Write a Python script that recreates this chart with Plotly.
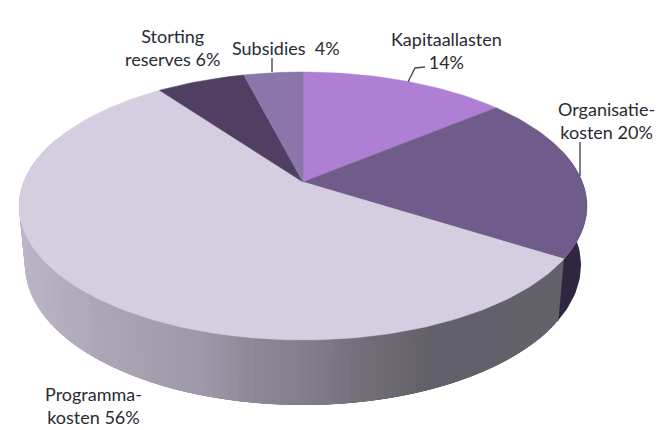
import math
import plotly.graph_objects as go

categories = ["Kapitaallasten", "Organisatiekosten", "Programmakosten", "Storting reserves", "Subsidies"]
values = [14, 20, 56, 6, 4]
top_colors = ["#ae7fd2", "#705c8a", "#d4cee0", "#503f63", "#8b76aa"]
label_texts = ["Kapitaallasten<br>14%", "Organisatie-<br>kosten 20%", "Programma-<br>kosten 56%",
               "Storting<br>reserves 6%", "Subsidies  4%"]
label_xy = [(446, 50), (606, 120), (93, 405), (172, 47), (286, 48)]

# wall shading along the screen x position
wall_stops = [(20, "#bcb5c8"), (100, "#aca5b6"), (200, "#9e98a8"), (260, "#8c8793"), (320, "#7e7a87"),
              (380, "#6e6b74"), (430, "#62606a"), (570, "#63616a")]
dark_wall = "#30263f"

K = 0.179
TOP = dict(cx=303, cy=182, a=279.4, b=129.7)
BOT = dict(cx=303, cy=240, a=273.5, b=135.5)


def project(theta, g):
    w = 1 + K * math.cos(theta)
    return g["cx"] + g["a"] * math.sin(theta) / w, g["cy"] - g["b"] * math.cos(theta) / w


def hex_rgb(h):
    return [int(h[i:i + 2], 16) for i in (1, 3, 5)]


def shade(x):
    if x <= wall_stops[0][0]:
        return wall_stops[0][1]
    for (x0, c0), (x1, c1) in zip(wall_stops, wall_stops[1:]):
        if x <= x1:
            t = (x - x0) / (x1 - x0)
            r = [round(p + (q - p) * t) for p, q in zip(hex_rgb(c0), hex_rgb(c1))]
            return "rgb(%d,%d,%d)" % tuple(r)
    return wall_stops[-1][1]


total = sum(values)
edges = [0.0]
for v in values:
    edges.append(edges[-1] + v / total * 2 * math.pi)


def poly(xs, ys, color):
    return go.Scatter(x=xs, y=ys, mode="lines", fill="toself", fillcolor=color,
                      line=dict(color=color, width=0), hoverinfo="skip", showlegend=False)


fig = go.Figure()

# side wall of the Organisatie slice
t0, t1 = math.pi / 2 - 0.25, edges[2] + 0.01
ts = [t0 + (t1 - t0) * i / 40 for i in range(41)]
up = [project(t, TOP) for t in ts]
lo = [project(t, BOT) for t in ts]
pts = up + lo[::-1]
fig.add_trace(poly([p[0] for p in pts] + [pts[0][0]], [p[1] for p in pts] + [pts[0][1]], dark_wall))

# side wall of the Programma slice, drawn from the right so every strip overlaps the previous one
N = 110
t0, t1 = edges[2], 3 * math.pi / 2 + 0.3
step = (t1 - t0) / N
for i in range(N):
    a = t0 + step * i
    b = a + step * 4
    p = [project(a, TOP), project(b, TOP), project(b, BOT), project(a, BOT), project(a, TOP)]
    mid = project(a + step / 2, TOP)[0]
    fig.add_trace(poly([q[0] for q in p], [q[1] for q in p], shade(mid)))

# top face slices
for i, c in enumerate(top_colors):
    n = max(8, int(values[i] * 3))
    ts = [edges[i] + (edges[i + 1] - edges[i]) * j / n for j in range(n + 1)]
    p = [project(t, TOP) for t in ts]
    xs = [TOP["cx"]] + [q[0] for q in p] + [TOP["cx"]]
    ys = [TOP["cy"]] + [q[1] for q in p] + [TOP["cy"]]
    fig.add_trace(go.Scatter(x=xs, y=ys, mode="lines", fill="toself", fillcolor=c, name=categories[i],
                             line=dict(color=c, width=0.5), hoverinfo="skip", showlegend=False))

# leader lines
leaders = [([408, 415, 425], [82, 68, 67]), ([272, 272], [58, 72]), ([580, 580], [142, 176])]
for lx, ly in leaders:
    fig.add_trace(go.Scatter(x=lx, y=ly, mode="lines", line=dict(color="#4a4a50", width=1.4),
                             hoverinfo="skip", showlegend=False))

for (x, y), t in zip(label_xy, label_texts):
    fig.add_annotation(x=x, y=y, text=t, showarrow=False, xanchor="center", yanchor="middle", align="center",
                       font=dict(family="Lato, Carlito, sans-serif", size=18, color="#2a2a32"))

fig.update_layout(width=657, height=430, margin=dict(l=0, r=0, t=0, b=0), paper_bgcolor="white",
                  plot_bgcolor="white", showlegend=False,
                  xaxis=dict(range=[0, 657], visible=False, fixedrange=True),
                  yaxis=dict(range=[430, 0], visible=False, fixedrange=True))
fig.write_html("out.html", config={"displayModeBar": False},
               post_script="document.body.style.margin='0';document.documentElement.style.overflow='hidden';")
